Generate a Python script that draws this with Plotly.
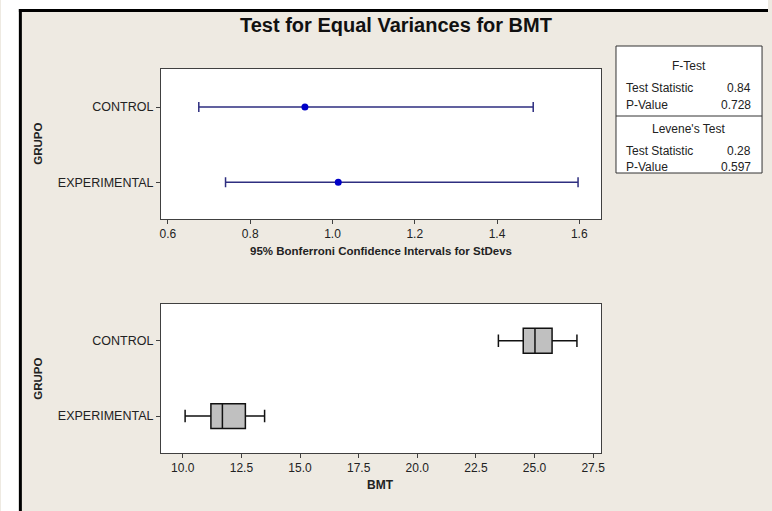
import plotly.graph_objects as go

# ---- data ----
groups = ["EXPERIMENTAL", "CONTROL"]
sd_lower = [0.740, 0.675]
sd_est = [1.014, 0.933]
sd_upper = [1.597, 1.488]

box_min = [10.10, 23.46]
box_q1 = [11.20, 24.52]
box_med = [11.69, 25.02]
box_q3 = [12.67, 25.75]
box_max = [13.49, 26.81]

ftest_stat = "0.84"
ftest_p = "0.728"
lev_stat = "0.28"
lev_p = "0.597"

bmt_ticks = [10.0, 12.5, 15.0, 17.5, 20.0, 22.5, 25.0, 27.5]
sd_ticks = [0.6, 0.8, 1.0, 1.2, 1.4, 1.6]

W, H = 772, 511
def px(x): return x / W
def py(y): return 1 - y / H

FONT = "Liberation Sans, Arial, sans-serif"
BEIGE = "#EEEAE2"

fig = go.Figure()

# CI plot
fig.add_trace(go.Scatter(
    x=sd_est, y=groups, mode="markers",
    marker=dict(color="#0000C8", size=7),
    error_x=dict(type="data", symmetric=False,
                 array=[u - e for u, e in zip(sd_upper, sd_est)],
                 arrayminus=[e - l for e, l in zip(sd_est, sd_lower)],
                 color="#2E2E80", thickness=1.5, width=5),
    xaxis="x", yaxis="y", showlegend=False, hoverinfo="skip"))

# box plot
fig.add_trace(go.Box(
    y=groups, q1=box_q1, median=box_med, q3=box_q3,
    lowerfence=box_min, upperfence=box_max,
    orientation="h", width=0.33,
    fillcolor="#C0C0C0", line=dict(color="#111111", width=1.5),
    xaxis="x2", yaxis="y2", showlegend=False, hoverinfo="skip"))

def axis_common(size):
    return dict(showline=True, mirror=True, linecolor="#404040", linewidth=1,
                showgrid=False, zeroline=False, ticks="outside", ticklen=4,
                tickcolor="#404040", tickfont=dict(family=FONT, size=size, color="#222"))

fig.update_layout(
    width=W, height=H, margin=dict(l=0, r=0, t=0, b=0),
    paper_bgcolor=BEIGE, plot_bgcolor="white",
    xaxis=dict(domain=[px(161), px(604)], range=[0.583, 1.653], anchor="y",
               tickvals=sd_ticks, ticktext=[f"{v:.1f}" for v in sd_ticks], **axis_common(12)),
    yaxis=dict(domain=[py(219), py(69)], range=[-0.49, 1.507], anchor="x",
               type="category", categoryarray=groups, **axis_common(12.5)),
    xaxis2=dict(domain=[px(161), px(604)], range=[9.07, 27.84], anchor="y2",
                tickvals=bmt_ticks, ticktext=[f"{v:.1f}" for v in bmt_ticks], **axis_common(12)),
    yaxis2=dict(domain=[py(453), py(304)], range=[-0.49, 1.487], anchor="x2",
                type="category", categoryarray=groups, **axis_common(12.5)),
)

shapes = [
    # white outside the frame
    dict(type="rect", xref="paper", yref="paper", x0=0, x1=px(18), y0=0, y1=1,
         fillcolor="white", line=dict(width=0), layer="below"),
    dict(type="rect", xref="paper", yref="paper", x0=0, x1=1, y0=py(9), y1=1,
         fillcolor="white", line=dict(width=0), layer="below"),
    # frame lines
    dict(type="line", xref="paper", yref="paper", x0=px(19.5), x1=px(19.5), y0=0, y1=py(9),
         line=dict(color="black", width=3)),
    dict(type="line", xref="paper", yref="paper", x0=px(18), x1=1, y0=py(10.5), y1=py(10.5),
         line=dict(color="black", width=3)),
    # stats table
    dict(type="rect", xref="paper", yref="paper", x0=px(619), x1=px(766), y0=py(173), y1=py(46),
         fillcolor="white", line=dict(color="#333333", width=1)),
    dict(type="line", xref="paper", yref="paper", x0=px(619), x1=px(766), y0=py(116), y1=py(116),
         line=dict(color="#333333", width=1)),
]
fig.update_layout(shapes=shapes)

def ann(text, x, y, size=11, bold=False, xanchor="center", angle=0, family=FONT, color="#222"):
    fig.add_annotation(text=f"<b>{text}</b>" if bold else text, xref="paper", yref="paper",
                       x=px(x), y=py(y), xanchor=xanchor, yanchor="middle", showarrow=False,
                       textangle=angle, font=dict(family=family, size=size, color=color))

ann("Test for Equal Variances for BMT", 398, 25, size=20, bold=True,
    family="Liberation Sans Narrow, Arial Narrow, Liberation Sans, sans-serif", color="#111")
ann("95% Bonferroni Confidence Intervals for StDevs", 382, 251, size=11.5, bold=True)
ann("BMT", 382, 485, size=12, bold=True)
ann("GRUPO", 37, 144, size=11.5, bold=True, angle=-90)
ann("GRUPO", 37, 379, size=11.5, bold=True, angle=-90)

# table text
TS = 12
ann("F-Test", 692, 66, size=TS)
ann("Test Statistic", 627, 87.5, size=TS, xanchor="left")
ann(ftest_stat, 757, 87.5, size=TS, xanchor="right")
ann("P-Value", 627, 105, size=TS, xanchor="left")
ann(ftest_p, 757, 105, size=TS, xanchor="right")
ann("Levene's Test", 692, 129, size=TS)
ann("Test Statistic", 627, 150.5, size=TS, xanchor="left")
ann(lev_stat, 757, 150.5, size=TS, xanchor="right")
ann("P-Value", 627, 167, size=TS, xanchor="left")
ann(lev_p, 757, 167, size=TS, xanchor="right")

fig.write_html("out.html", config={"displayModeBar": False},
               post_script="document.body.style.margin='0px';")
